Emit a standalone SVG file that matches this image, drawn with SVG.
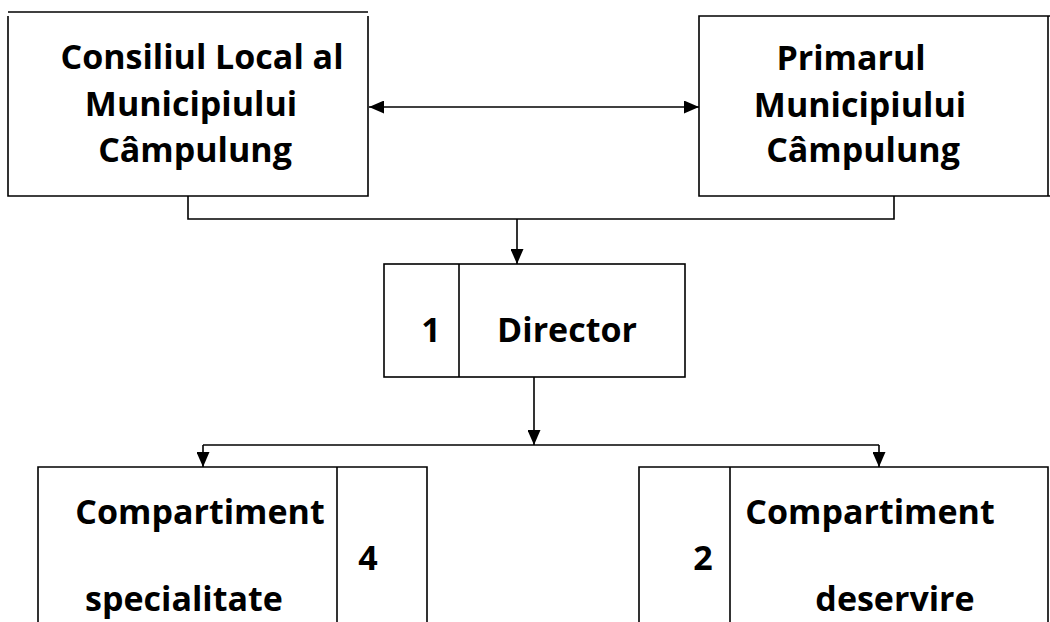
<svg xmlns="http://www.w3.org/2000/svg" width="1050" height="622" viewBox="0 0 1050 622">
<defs>
<style>
.box{fill:#fff;stroke:#000;stroke-width:1.6}
.ln{fill:none;stroke:#000;stroke-width:1.6}
.t{font-family:"Open Sans","DejaVu Sans",sans-serif;font-weight:bold;font-size:34px;fill:#000;text-anchor:middle}
</style>
<marker id="ah" viewBox="0 0 15 13" refX="15" refY="6.5" markerWidth="15" markerHeight="13" markerUnits="userSpaceOnUse" orient="auto-start-reverse">
<path d="M0,0 L15,6.5 L0,13 Z" fill="#000"/>
</marker>
</defs>
<rect width="1050" height="622" fill="#fff"/>
<g id="consiliul">
<line class="ln" x1="8" y1="12" x2="368" y2="12"/>
<path class="ln" d="M8,16 V196 H368 V16"/>
<text class="t" x="202" y="69">Consiliul Local al</text>
<text class="t" x="191" y="116">Municipiului</text>
<text class="t" x="195" y="162">Câmpulung</text>
</g>
<g id="primarul">
<path class="ln" d="M1050,16 H699 V196 H1050"/>
<line class="ln" x1="1048" y1="16" x2="1048" y2="196"/>
<text class="t" x="851" y="70">Primarul</text>
<text class="t" x="860" y="117">Municipiului</text>
<text class="t" x="863" y="162">Câmpulung</text>
</g>
<g id="director">
<rect class="box" x="384" y="264" width="301" height="113"/>
<line class="ln" x1="459" y1="264" x2="459" y2="377"/>
<text class="t" x="431" y="342">1</text>
<text class="t" x="567" y="342">Director</text>
</g>
<g id="specialitate">
<path class="ln" d="M38,622 V467 H427 V622"/>
<line class="ln" x1="337" y1="467" x2="337" y2="622"/>
<text class="t" x="200" y="524">Compartiment</text>
<text class="t" x="368" y="570">4</text>
<text class="t" x="184" y="611">specialitate</text>
</g>
<g id="deservire">
<path class="ln" d="M639,622 V467 H1048 V622"/>
<line class="ln" x1="730" y1="467" x2="730" y2="622"/>
<text class="t" x="703" y="570">2</text>
<text class="t" x="870" y="524">Compartiment</text>
<text class="t" x="895" y="611">deservire</text>
</g>
<g id="connectors">
<line class="ln" x1="369" y1="107" x2="699" y2="107" marker-start="url(#ah)" marker-end="url(#ah)"/>
<path class="ln" d="M188,196 V219 H894 V196"/>
<line class="ln" x1="517" y1="219" x2="517" y2="264" marker-end="url(#ah)"/>
<line class="ln" x1="534" y1="377" x2="534" y2="445" marker-end="url(#ah)"/>
<line class="ln" x1="203" y1="445" x2="879" y2="445"/>
<line class="ln" x1="203" y1="445" x2="203" y2="467" marker-end="url(#ah)"/>
<line class="ln" x1="879" y1="445" x2="879" y2="467" marker-end="url(#ah)"/>
</g>
</svg>
